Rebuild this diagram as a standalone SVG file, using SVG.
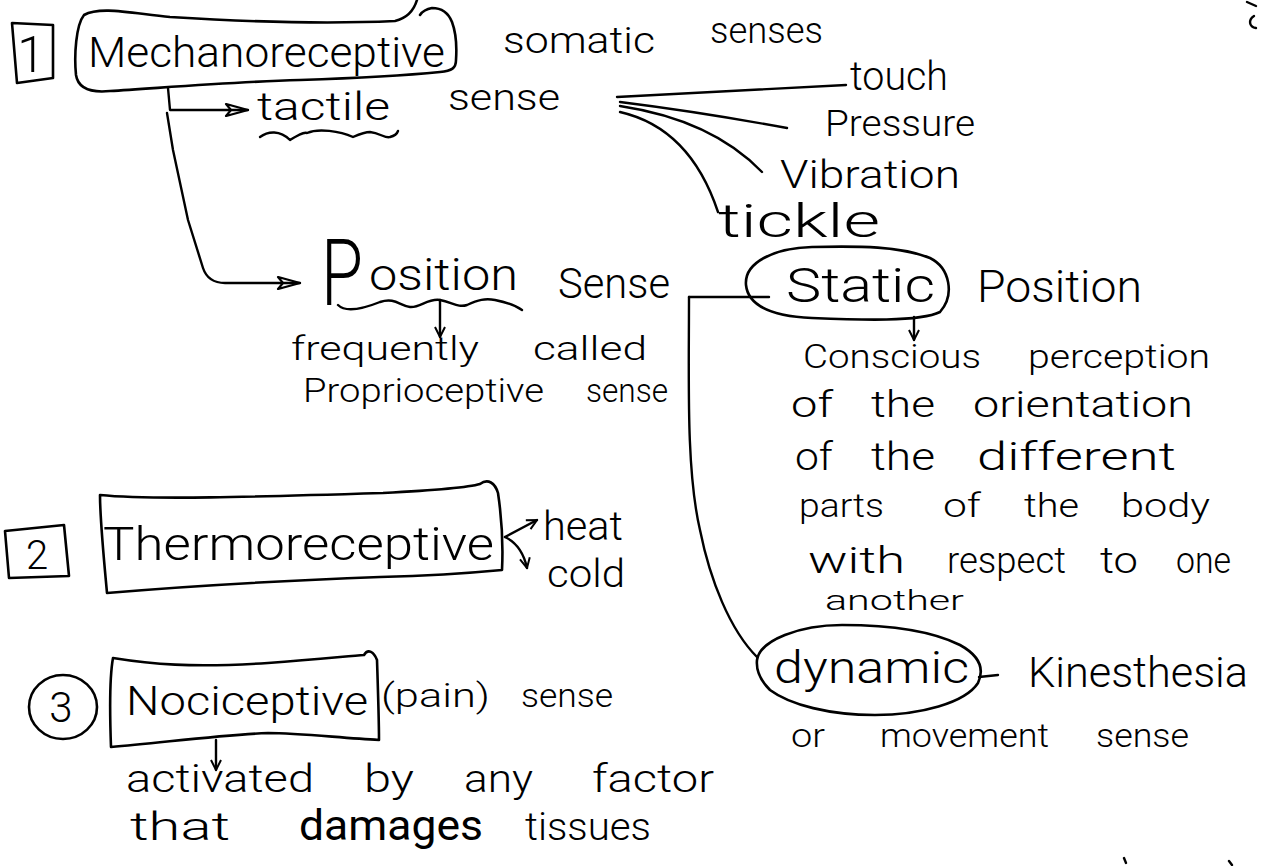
<svg xmlns="http://www.w3.org/2000/svg" width="1263" height="866" viewBox="0 0 1263 866">
<style>
text{font-family:Roboto,"Liberation Sans","DejaVu Sans",sans-serif;font-weight:300;fill:#000;}
.sh{fill:none;stroke:#000;stroke-width:2.6;stroke-linecap:round;stroke-linejoin:round;}
.ln{fill:none;stroke:#000;stroke-width:2.4;stroke-linecap:round;stroke-linejoin:round;}
</style>
<defs>
<marker id="v" viewBox="0 0 12 12" refX="11" refY="6" markerWidth="12" markerHeight="12" markerUnits="userSpaceOnUse" orient="auto"><path d="M1,1 L11,6 L1,11" fill="none" stroke="#000" stroke-width="2"/></marker>
<marker id="tri" viewBox="0 0 26 14" refX="25" refY="7" markerWidth="26" markerHeight="14" markerUnits="userSpaceOnUse" orient="auto"><path d="M3,1 L25,7 L3,13 L8,7 Z" fill="none" stroke="#000" stroke-width="2.2" stroke-linejoin="round"/></marker>
</defs>
<rect width="1263" height="866" fill="#fff"/>

<g id="connectors">
<path class="ln" d="M168,88 L170,110 L248,110" marker-end="url(#tri)"/>
<path class="ln" d="M167,113 L173,150 L188,220 L203,268 Q208,283 225,283 L300,283" marker-end="url(#tri)"/>
<path class="ln" d="M617,97 L846,85"/>
<path class="ln" d="M620,102 Q700,112 787,128"/>
<path class="ln" d="M620,106 Q712,120 762,172"/>
<path class="ln" d="M620,112 Q690,128 718,212"/>
<path class="ln" d="M440,300 L440,337" marker-end="url(#v)"/>
<path class="ln" d="M689,297 L769,297"/>
<path class="ln" d="M689,297 C689,380 686,470 700,530 C710,580 730,630 757,657"/>
<path class="ln" d="M914,317 L914,340" marker-end="url(#v)"/>
<path class="ln" d="M979,677 L998,675"/>
<path class="ln" d="M505,537 L537,520" marker-end="url(#v)"/>
<path class="ln" d="M505,537 Q522,545 527,568" marker-end="url(#v)"/>
<path class="ln" d="M216,740 L216,770" marker-end="url(#v)"/>
</g>

<g id="n-mechano">
<path class="sh" d="M12,23 L53,25 L53,78 L17,83 Z"/>
<text x="31" y="72" font-size="50" text-anchor="middle">1</text>
<path class="sh" d="M417,0 C414,10 408,18 395,21 C330,24 250,22 170,17 C130,13 100,6 84,15 C76,25 74,55 76,75 C78,88 90,93 110,91 C160,88 230,82 300,80 C360,78 400,76 440,72 C452,71 456,68 456,60 C457,45 455,30 452,22 C448,12 440,8 432,8 C426,9 422,12 420,15"/>
<text x="88" y="67" font-size="42" textLength="357" lengthAdjust="spacingAndGlyphs">Mechanoreceptive</text>
</g>

<g id="n-somatic">
<text x="503" y="53" font-size="36" textLength="152" lengthAdjust="spacingAndGlyphs">somatic</text>
<text x="710" y="43" font-size="36" textLength="113" lengthAdjust="spacingAndGlyphs">senses</text>
</g>

<g id="n-tactile">
<text x="257" y="120" font-size="38" textLength="133" lengthAdjust="spacingAndGlyphs">tactile</text>
<text x="448" y="110" font-size="36" textLength="112" lengthAdjust="spacingAndGlyphs">sense</text>
<path class="ln" d="M260,137 C268,131 280,130 290,140 C298,135 303,132 307,133 C318,128 340,131 353,137 C360,134 365,132 370,132 C380,133 386,139 390,137 C394,136 397,134 398,131"/>
</g>

<g id="n-touch"><text x="850" y="90" font-size="40" textLength="98" lengthAdjust="spacingAndGlyphs">touch</text></g>
<g id="n-pressure"><text x="825" y="136" font-size="36" textLength="150" lengthAdjust="spacingAndGlyphs">Pressure</text></g>
<g id="n-vibration"><text x="780" y="188" font-size="38" textLength="180" lengthAdjust="spacingAndGlyphs">Vibration</text></g>
<g id="n-tickle"><text x="718" y="237" font-size="46" textLength="162" lengthAdjust="spacingAndGlyphs">tickle</text></g>

<g id="n-position">
<text><tspan x="321" y="305" font-size="92" textLength="42" lengthAdjust="spacingAndGlyphs">P</tspan><tspan x="369" y="290" font-size="44" textLength="149" lengthAdjust="spacingAndGlyphs">osition</tspan></text>
<text x="558" y="298" font-size="42" textLength="112" lengthAdjust="spacingAndGlyphs">Sense</text>
<path class="ln" d="M338,305 C345,312 360,310 380,302 C395,297 400,306 410,307 C420,308 428,298 440,300 C452,302 458,308 467,305 C478,300 485,298 495,300 C505,302 515,305 522,310"/>
<text font-size="34"><tspan x="291" y="360" textLength="188" lengthAdjust="spacingAndGlyphs">frequently</tspan><tspan x="533" y="360" textLength="114" lengthAdjust="spacingAndGlyphs">called</tspan></text>
<text font-size="34"><tspan x="303" y="402" textLength="241" lengthAdjust="spacingAndGlyphs">Proprioceptive</tspan><tspan x="586" y="402" textLength="82" lengthAdjust="spacingAndGlyphs">sense</tspan></text>
</g>

<g id="n-static">
<path class="sh" d="M746,285 C744,262 775,248 812,247 C860,246 900,246 930,258 C950,268 955,295 940,312 C920,322 860,320 812,318 C770,316 748,305 746,285 Z"/>
<text x="786" y="302" font-size="48" textLength="149" lengthAdjust="spacingAndGlyphs">Static</text>
<text x="977" y="302" font-size="44" textLength="165" lengthAdjust="spacingAndGlyphs">Position</text>
<text font-size="34"><tspan x="803" y="368" textLength="178" lengthAdjust="spacingAndGlyphs">Conscious</tspan><tspan x="1028" y="368" textLength="182" lengthAdjust="spacingAndGlyphs">perception</tspan></text>
<text font-size="36"><tspan x="791" y="417" textLength="42" lengthAdjust="spacingAndGlyphs">of</tspan><tspan x="871" y="417" textLength="64" lengthAdjust="spacingAndGlyphs">the</tspan><tspan x="973" y="417" textLength="220" lengthAdjust="spacingAndGlyphs">orientation</tspan></text>
<text font-size="38"><tspan x="795" y="470" textLength="38" lengthAdjust="spacingAndGlyphs">of</tspan><tspan x="871" y="470" textLength="64" lengthAdjust="spacingAndGlyphs">the</tspan><tspan x="977" y="470" textLength="199" lengthAdjust="spacingAndGlyphs">different</tspan></text>
<text font-size="34"><tspan x="799" y="517" textLength="85" lengthAdjust="spacingAndGlyphs">parts</tspan><tspan x="943" y="517" textLength="38" lengthAdjust="spacingAndGlyphs">of</tspan><tspan x="1024" y="517" textLength="55" lengthAdjust="spacingAndGlyphs">the</tspan><tspan x="1121" y="517" textLength="89" lengthAdjust="spacingAndGlyphs">body</tspan></text>
<text font-size="36"><tspan x="808" y="573" textLength="97" lengthAdjust="spacingAndGlyphs">with</tspan><tspan x="947" y="573" textLength="119" lengthAdjust="spacingAndGlyphs">respect</tspan><tspan x="1100" y="573" textLength="38" lengthAdjust="spacingAndGlyphs">to</tspan><tspan x="1176" y="573" textLength="55" lengthAdjust="spacingAndGlyphs">one</tspan></text>
<text x="825" y="610" font-size="28" textLength="139" lengthAdjust="spacingAndGlyphs">another</text>
</g>

<g id="n-dynamic">
<path class="sh" d="M757,660 C760,640 800,625 842,625 C890,625 930,630 960,645 C978,655 985,668 978,683 C965,703 920,715 875,715 C830,715 790,705 770,690 C760,680 756,670 757,660 Z"/>
<text x="774" y="683" font-size="44" textLength="195" lengthAdjust="spacingAndGlyphs">dynamic</text>
<text x="1028" y="687" font-size="42" textLength="220" lengthAdjust="spacingAndGlyphs">Kinesthesia</text>
<text font-size="34"><tspan x="791" y="747" textLength="34" lengthAdjust="spacingAndGlyphs">or</tspan><tspan x="880" y="747" textLength="169" lengthAdjust="spacingAndGlyphs">movement</tspan><tspan x="1096" y="747" textLength="93" lengthAdjust="spacingAndGlyphs">sense</tspan></text>
</g>

<g id="n-thermo">
<path class="sh" d="M5,531 L64,525 L69,576 L9,578 Z"/>
<text x="37" y="569" font-size="40" text-anchor="middle">2</text>
<path class="sh" d="M100,495 C150,500 250,497 383,493 C440,490 470,487 480,484 C488,478 495,483 498,493 C502,520 503,550 502,570 C460,574 420,576 380,577 C300,580 200,585 107,593 C104,560 100,520 100,495 Z"/>
<text x="103" y="560" font-size="46" textLength="391" lengthAdjust="spacingAndGlyphs">Thermoreceptive</text>
<text x="543" y="540" font-size="40" textLength="80" lengthAdjust="spacingAndGlyphs">heat</text>
<text x="547" y="587" font-size="38" textLength="78" lengthAdjust="spacingAndGlyphs">cold</text>
</g>

<g id="n-noci">
<ellipse class="sh" cx="63" cy="707" rx="34" ry="32"/>
<text x="61" y="722" font-size="42" text-anchor="middle">3</text>
<path class="sh" d="M113,658 C150,664 190,668 268,663 C320,659 350,656 364,655 C368,648 374,652 377,660 C378,690 379,720 379,740 C340,738 300,733 268,733 C220,735 160,743 111,747 C110,720 109,680 113,658 Z"/>
<text x="126" y="715" font-size="40" textLength="242" lengthAdjust="spacingAndGlyphs">Nociceptive</text>
<text font-size="34"><tspan x="381" y="707" textLength="109" lengthAdjust="spacingAndGlyphs">(pain)</tspan><tspan x="521" y="707" textLength="92" lengthAdjust="spacingAndGlyphs">sense</tspan></text>
<text font-size="38"><tspan x="126" y="792" textLength="188" lengthAdjust="spacingAndGlyphs">activated</tspan><tspan x="364" y="792" textLength="50" lengthAdjust="spacingAndGlyphs">by</tspan><tspan x="464" y="792" textLength="69" lengthAdjust="spacingAndGlyphs">any</tspan><tspan x="592" y="792" textLength="122" lengthAdjust="spacingAndGlyphs">factor</tspan></text>
<text font-size="38"><tspan x="130" y="840" textLength="100" lengthAdjust="spacingAndGlyphs">that</tspan><tspan x="299" y="840" textLength="184" lengthAdjust="spacingAndGlyphs" font-size="42" font-weight="400">damages</tspan><tspan x="525" y="840" textLength="126" lengthAdjust="spacingAndGlyphs">tissues</tspan></text>
</g>

<g id="marks">
<path class="ln" d="M1247,2 L1256,6"/>
<path class="ln" d="M1254,16 C1248,20 1249,27 1256,28"/>
<path class="ln" d="M1124,858 L1126,863"/>
<path class="ln" d="M1229,861 L1232,865"/>
</g>
</svg>
